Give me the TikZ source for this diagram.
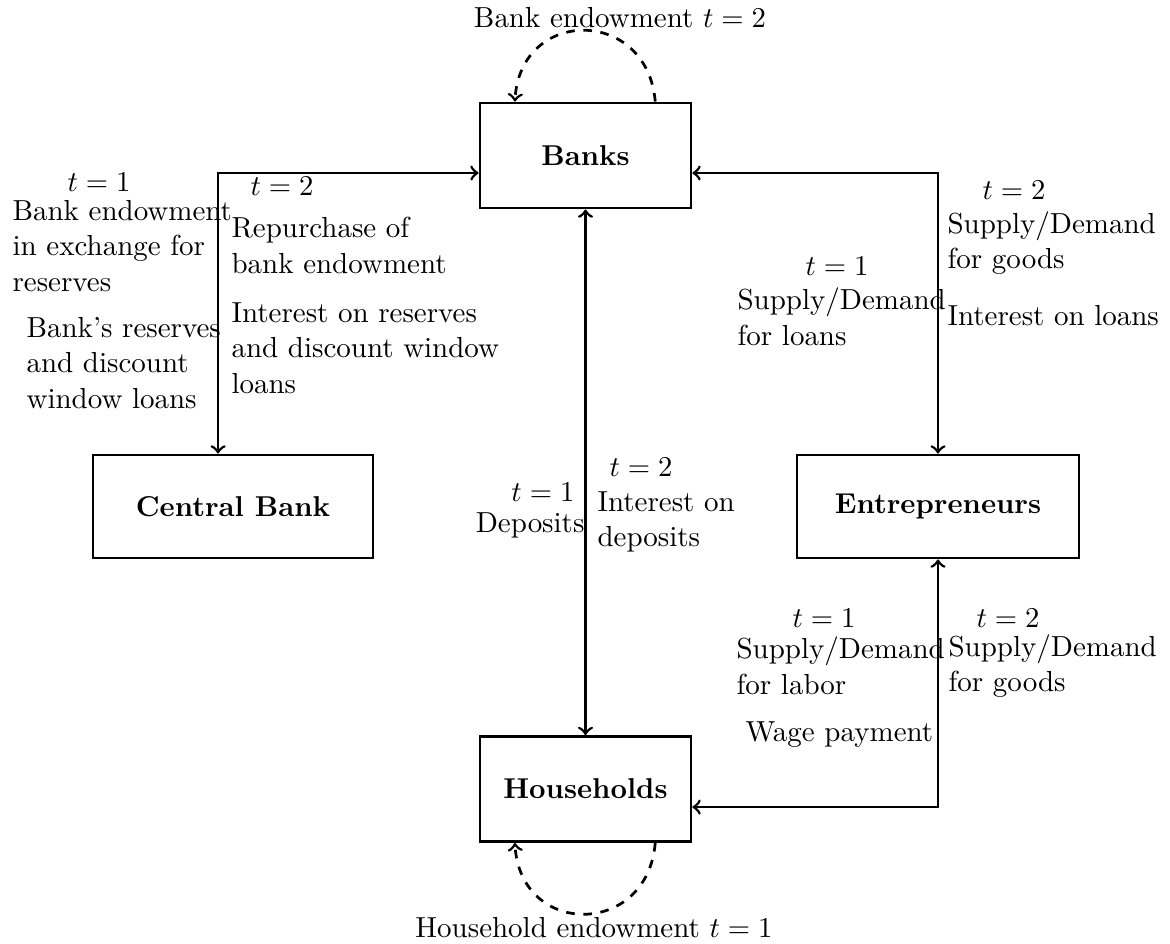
\documentclass[tikz,border=0pt]{standalone}
\begin{document}
\begin{tikzpicture}[x=0.34843pt, y=-0.34843pt,
  box/.style={draw, line width=1pt, font=\bfseries, inner sep=0pt},
  conn/.style={line width=0.95pt},
  lbl/.style={inner sep=0pt, align=left, font=\fontsize{10.1}{12.4}\selectfont},
  dashconn/.style={line width=0.95pt, dashed, ->}
]
\useasboundingbox (0,0) rectangle (1170,943);

% boxes
\node[box, minimum width=73.5pt, minimum height=36.6pt] (banks) at (585.5,155.5) {Banks};
\node[box, minimum width=97.6pt, minimum height=35.9pt] (cb) at (233,506.5) {Central Bank};
\node[box, minimum width=98.3pt, minimum height=35.9pt] (ent) at (938,506.5) {Entrepreneurs};
\node[box, minimum width=73.5pt, minimum height=36.6pt] (hh) at (585.5,789) {Households};

% connectors
\draw[conn, <->] ([yshift=-6.1pt]banks.west) -| ([xshift=-5.2pt]cb.north);
\draw[conn, <->] ([yshift=-6.1pt]banks.east) -| (ent.north);
\draw[conn, <->] (banks.south) -- (hh.north);
\draw[conn, <->] (ent.south) |- ([yshift=-6.3pt]hh.east);

% endowment loops
\draw[dashconn] ([xshift=24.3pt]banks.north) .. controls +(-2.8pt,33pt) and +(1.8pt,33pt) .. ([xshift=-24.6pt]banks.north);
\draw[dashconn] ([xshift=24.3pt]hh.south) .. controls +(-2.8pt,-33pt) and +(1.8pt,-33pt) .. ([xshift=-24.6pt]hh.south);

% labels
\node[lbl] (topl) at (620,18) {Bank endowment $t=2$};
\node[lbl] (botl) at (594,928) {Household endowment $t=1$};

\node[lbl] (l1) at (99,182) {$t=1$};
\node[lbl, anchor=west] (l2) at (12,246) {Bank endowment\\in exchange for\\reserves};
\node[lbl, anchor=west] (l3) at (26,363) {Bank's reserves\\and discount\\window loans};
\node[lbl] (l4) at (282,186) {$t=2$};
\node[lbl, anchor=west] (l5) at (231,245.5) {Repurchase of\\bank endowment};
\node[lbl, anchor=west] (l6) at (231,348) {Interest on reserves\\and discount window\\loans};

\node[lbl] (r1) at (837,266) {$t=1$};
\node[lbl, anchor=west] (r2) at (737,317) {Supply/Demand\\for loans};
\node[lbl] (r3) at (1014,190) {$t=2$};
\node[lbl, anchor=west] (r4) at (947,243) {Supply/Demand\\for goods};
\node[lbl, anchor=west] (r5) at (947,316) {Interest on loans};

\node[lbl] (b1) at (824,618) {$t=1$};
\node[lbl, anchor=west] (b2) at (736,666) {Supply/Demand\\for labor};
\node[lbl, anchor=west] (b3) at (745,735) {Wage payment};
\node[lbl] (b4) at (1008,618) {$t=2$};
\node[lbl, anchor=west] (b5) at (948,666) {Supply/Demand\\for goods};

\node[lbl, anchor=east] (m1) at (575,492) {$t=1$};
\node[lbl, anchor=east] (m2) at (585,525) {Deposits};
\node[lbl] (m3) at (641,467) {$t=2$};
\node[lbl, anchor=west] (m4) at (597,522) {Interest on\\deposits};
\end{tikzpicture}
\end{document}
